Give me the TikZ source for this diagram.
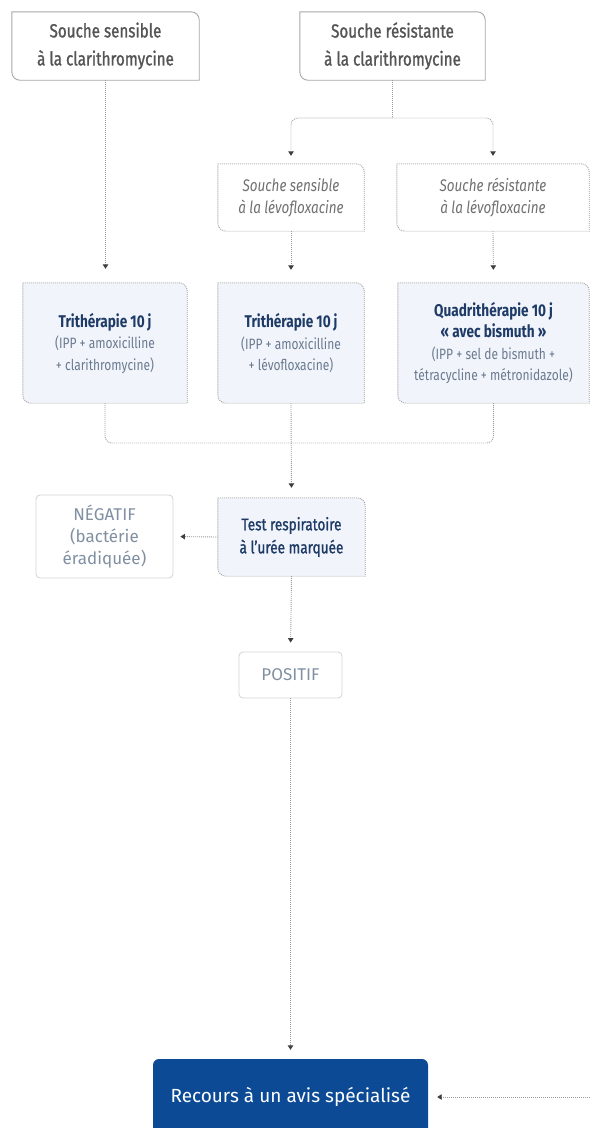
\documentclass[tikz,border=0pt]{standalone}
\usepackage{fontspec}
\setmainfont{Fira Sans}
\newfontfamily\cond[FakeStretch=0.8]{Fira Sans}
\newfontfamily\condm[FakeStretch=0.8,FakeBold=1.2]{Fira Sans}
\usetikzlibrary{arrows.meta,backgrounds}
\definecolor{hdr}{HTML}{555555}
\definecolor{brd}{HTML}{A8A8A8}
\definecolor{dotc}{HTML}{9C9C9C}
\definecolor{navy}{HTML}{1E3A66}
\definecolor{subc}{HTML}{6B7A90}
\definecolor{itc}{HTML}{707070}
\definecolor{lfill}{HTML}{F1F5FB}
\definecolor{pale}{HTML}{8090A2}
\definecolor{lbrd}{HTML}{D6D6D6}
\definecolor{deep}{HTML}{0C4A96}
\definecolor{tipc}{HTML}{3F3F3F}
\newcommand\cutbox[3][8pt]{\draw[#3] (#2.north west) -- ([xshift=-#1]#2.north east) arc[start angle=90,end angle=0,radius=#1] -- (#2.south east) -- ([xshift=#1]#2.south west) arc[start angle=270,end angle=180,radius=#1] -- cycle;}
\tikzset{
  base/.style={inner sep=0pt, align=center},
  hdrtext/.style={base, text=hdr, font=\condm\fontsize{19}{28}\selectfont},
  ittext/.style={base, text=itc, font=\cond\itshape\fontsize{16.8}{22}\selectfont},
  tritext/.style={base, text=subc, font=\cond\fontsize{15}{21.5}\selectfont},
  boldline/.style={},
  testtext/.style={base, text=navy, font=\condm\fontsize{17}{23}\selectfont},
  resulttext/.style={base, text=pale, font=\fontsize{17}{22}\selectfont},
  solidframe/.style={draw=brd, line width=0.9pt, fill=white},
  dotframe/.style={draw=dotc, line width=0.9pt, dash pattern=on 0.9pt off 1.1pt, fill=white},
  dotfill/.style={draw=dotc, line width=0.9pt, dash pattern=on 0.9pt off 1.1pt, fill=lfill},
  resultbox/.style={resulttext, draw=lbrd, line width=0.9pt, rounded corners=4pt, fill=white},
  conn/.style={draw=dotc, line width=0.9pt, dash pattern=on 0.9pt off 1.1pt},
  arr/.style={conn, -{Triangle[width=5.5pt,length=4.5pt,color=tipc]}},
}
\newcommand\navybold[2]{{\cond\bfseries\color{navy}\fontsize{17}{#1}\selectfont #2}}
\begin{document}
\begin{tikzpicture}[x=1pt,y=-1pt]
\useasboundingbox (0,0) rectangle (590,1128);
% nodes
\node[hdrtext, minimum width=187, minimum height=68] (s1) at (105.5,46) {Souche sensible\\à la clarithromycine};
\node[hdrtext, minimum width=185, minimum height=68] (s2) at (392.5,46) {Souche résistante\\à la clarithromycine};
\node[ittext, minimum width=146, minimum height=67] (l1) at (291,197.5) {Souche sensible\\à la lévofloxacine};
\node[ittext, minimum width=192, minimum height=67] (l2) at (493,197.5) {Souche résistante\\à la lévofloxacine};
\node[tritext, minimum width=164, minimum height=120] (t1) at (105,343) {\navybold{24}{Trithérapie 10\,j}\\(IPP + amoxicilline\\+ clarithromycine)};
\node[tritext, minimum width=146, minimum height=120] (t2) at (291,343) {\navybold{24}{Trithérapie 10\,j}\\(IPP + amoxicilline\\+ lévofloxacine)};
\node[tritext, minimum width=191, minimum height=120] (t3) at (493.5,343) {\navybold{20}{Quadrithérapie 10\,j}\\\navybold{21.5}{« avec bismuth »}\\(IPP + sel de bismuth +\\tétracycline + métronidazole)};
\node[testtext, minimum width=147, minimum height=78] (test) at (291.5,537) {Test respiratoire\\à l’urée marquée};
\node[resultbox, minimum width=137, minimum height=83] (neg) at (104.5,536.5) {NÉGATIF\\(bactérie\\éradiquée)};
\node[resultbox, minimum width=103, minimum height=46] (pos) at (290.5,675) {POSITIF};
\node[base, fill=deep, text=white, rounded corners=6pt, minimum width=275, minimum height=76, font=\fontsize{19}{22}\selectfont] (rec) at (290.5,1097) {Recours à un avis spécialisé};
% frames
\begin{scope}[on background layer]
\fill[white] (0,0) rectangle (590,1128);
\cutbox{s1}{solidframe}
\cutbox{s2}{solidframe}
\cutbox{l1}{dotframe}
\cutbox{l2}{dotframe}
\cutbox{t1}{dotfill}
\cutbox{t2}{dotfill}
\cutbox{t3}{dotfill}
\cutbox{test}{dotfill}
\end{scope}
% junctions
\coordinate (j1) at (392.5,118);
\coordinate (j2) at (291,443);
\coordinate (rin) at (590,1097);
% connectors
\draw[arr, shorten >=14pt] (s1.south) -- (s1.south |- t1.north);
\draw[conn] (s2.south) -- (j1);
\draw[arr, rounded corners=7pt, shorten >=8pt] (j1) -| (l1.north);
\draw[arr, rounded corners=7pt, shorten >=8pt] (j1) -| (l2.north);
\draw[arr, shorten >=13pt] (l1.south) -- (t2.north);
\draw[arr, shorten >=13pt] (l2.south) -- (t3.north);
\draw[conn, rounded corners=7pt] (t1.south) |- (j2);
\draw[conn, rounded corners=7pt] (t3.south) |- (j2);
\draw[arr, shorten >=10pt] (t2.south) -- (test.north);
\draw[arr, shorten >=7pt] (test.west) -- (neg.east);
\draw[arr, shorten >=9pt] (test.south) -- (pos.north);
\draw[arr, shorten >=9pt] (pos.south) -- (rec.north);
\draw[arr, shorten >=9pt] (rin) -- (rec.east);
\end{tikzpicture}
\end{document}
